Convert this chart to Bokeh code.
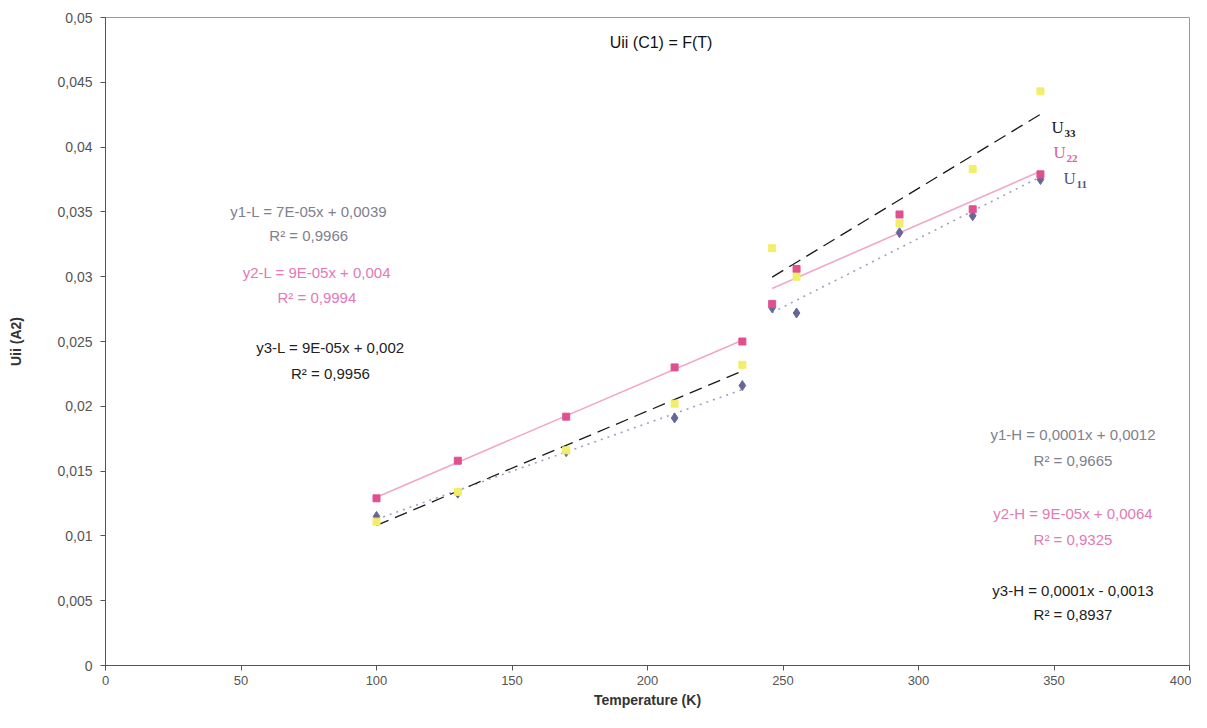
import numpy as np
from bokeh.plotting import figure
from bokeh.models import Range1d, FixedTicker, Label
from bokeh.embed import file_html
from bokeh.resources import INLINE

# ---- data ----
T_low = [100, 130, 170, 210, 235]
T_high = [246, 255, 293, 320, 345]
U11_low = [0.0115, 0.0133, 0.0165, 0.0191, 0.0216]
U22_low = [0.0129, 0.0158, 0.0192, 0.0230, 0.0250]
U33_low = [0.0111, 0.0134, 0.0166, 0.0202, 0.0232]
U11_high = [0.0276, 0.0272, 0.0334, 0.0347, 0.0375]
U22_high = [0.0279, 0.0306, 0.0348, 0.0352, 0.0379]
U33_high = [0.0322, 0.0300, 0.0341, 0.0383, 0.0443]

x_ticks = [0, 50, 100, 150, 200, 250, 300, 350, 400]
y_ticks = [0, 0.005, 0.01, 0.015, 0.02, 0.025, 0.03, 0.035, 0.04, 0.045, 0.05]
y_tick_labels = ["0", "0,005", "0,01", "0,015", "0,02", "0,025", "0,03", "0,035", "0,04", "0,045", "0,05"]

title_text = "Uii (C1) = F(T)"
eq_low = [("y1-L = 7E-05x + 0,0039", "R² = 0,9966"),
          ("y2-L = 9E-05x + 0,004", "R² = 0,9994"),
          ("y3-L = 9E-05x + 0,002", "R² = 0,9956")]
eq_high = [("y1-H = 0,0001x + 0,0012", "R² = 0,9665"),
           ("y2-H = 9E-05x + 0,0064", "R² = 0,9325"),
           ("y3-H = 0,0001x - 0,0013", "R² = 0,8937")]
series_names = [("U", "11"), ("U", "22"), ("U", "33")]

C_BLUE = "#66669a"
C_PINK = "#e0508f"
C_YEL = "#f2ee6a"
TXT_COLORS = ["#80808f", "#e27ab4", "#222222"]
LINE_COLORS = ["#a0a0c4", "#f2a6c8", "#1a1a1a"]
SUB_COLORS = ["#555577", "#e0609a", "#1a1a1a"]

p = figure(width=1191, height=712, output_backend="svg", toolbar_location=None,
           x_range=Range1d(0, 400), y_range=Range1d(0, 0.05),
           min_border_left=105, min_border_right=2, min_border_top=17, min_border_bottom=47)
p.xgrid.visible = False
p.ygrid.visible = False
p.outline_line_color = "#9a9a9a"
p.background_fill_color = "white"

p.xaxis.ticker = FixedTicker(ticks=x_ticks)
p.yaxis.ticker = FixedTicker(ticks=y_ticks)
p.yaxis.major_label_overrides = {t: l for t, l in zip(y_ticks, y_tick_labels)}
p.xaxis.minor_tick_line_color = None
p.yaxis.minor_tick_line_color = None
for ax in (p.xaxis, p.yaxis):
    ax.axis_line_color = "#555555"
    ax.major_tick_line_color = "#555555"
    ax.major_tick_out = 5
    ax.major_tick_in = 0
    ax.major_label_text_font = "Liberation Sans"
    ax.major_label_text_color = "#555555"
    ax.axis_label_text_font = "Liberation Sans"
    ax.axis_label_text_font_style = "bold"
    ax.axis_label_text_color = "#333333"
    ax.axis_label_text_font_size = "14px"
p.xaxis.major_label_text_font_size = "13px"
p.yaxis.major_label_text_font_size = "14px"
p.xaxis.axis_label = "Temperature (K)"
p.yaxis.axis_label = "Uii (A2)"
p.xaxis.axis_label_standoff = 4
p.yaxis.axis_label_standoff = 30
p.xaxis.major_label_standoff = 5
p.yaxis.major_label_standoff = 8

# trend lines (least-squares fits of each segment)
dashes = ["2 5", "solid", "13 7"]
for T, series in ((T_low, (U11_low, U22_low, U33_low)), (T_high, (U11_high, U22_high, U33_high))):
    xs = np.array([T[0], T[-1]], dtype=float)
    for i, U in enumerate(series):
        a, b = np.polyfit(T, U, 1)
        p.line(xs, a * xs + b, line_color=LINE_COLORS[i], line_width=1.6 if i < 2 else 1.3,
               line_dash=dashes[i])

# markers
for T, u11, u22, u33 in ((T_low, U11_low, U22_low, U33_low), (T_high, U11_high, U22_high, U33_high)):
    p.scatter(T, u11, marker="diamond", size=10, fill_color=C_BLUE, line_color=C_BLUE)
    p.scatter(T, u22, marker="square", size=7, fill_color=C_PINK, line_color=C_PINK)
    p.scatter(T, u33, marker="square", size=7, fill_color=C_YEL, line_color=C_YEL)

# title
p.add_layout(Label(x=205, y=0.0481, text=title_text, text_align="center", text_baseline="middle",
                   text_font="Liberation Sans", text_font_size="16px", text_color="#111111"))

# equations
low_y = [(0.0350, 0.0332), (0.0303, 0.0284), (0.0245, 0.0225)]
low_x = [75, 78, 83]
for (eq, r2), (ye, yr), xx, col in zip(eq_low, low_y, low_x, TXT_COLORS):
    for t, yy in ((eq, ye), (r2, yr)):
        p.add_layout(Label(x=xx, y=yy, text=t, text_align="center", text_baseline="middle",
                           text_font="Liberation Sans", text_font_size="15px", text_color=col))
high_y = [(0.0178, 0.0158), (0.0117, 0.0097), (0.0058, 0.0039)]
for (eq, r2), (ye, yr), col in zip(eq_high, high_y, TXT_COLORS):
    for t, yy in ((eq, ye), (r2, yr)):
        p.add_layout(Label(x=357, y=yy, text=t, text_align="center", text_baseline="middle",
                           text_font="Liberation Sans", text_font_size="15px", text_color=col))

# series labels U11, U22, U33
name_pos = [(353.5, 0.0376), (349.8, 0.0396), (349.1, 0.0415)]
for (u, sub), (xx, yy), col in zip(series_names, name_pos, SUB_COLORS):
    p.add_layout(Label(x=xx, y=yy, text=u, text_align="left", text_baseline="middle",
                       text_font="Liberation Serif", text_font_size="17px", text_color=col))
    p.add_layout(Label(x=xx, y=yy, x_offset=13, y_offset=-6, text=sub, text_align="left",
                       text_baseline="middle", text_font="Liberation Serif", text_font_style="bold",
                       text_font_size="11px", text_color=col))

open("out.html", "w").write(file_html(p, INLINE))
